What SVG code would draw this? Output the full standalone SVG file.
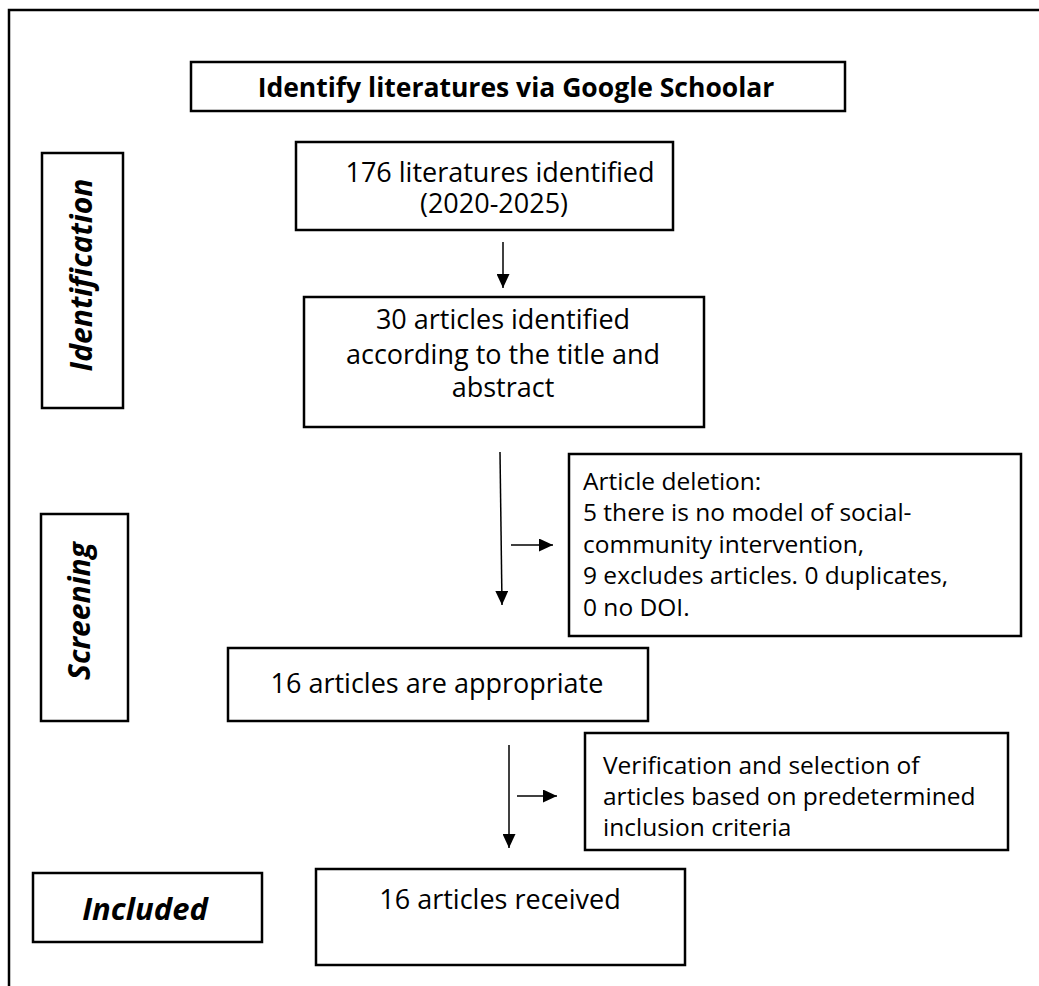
<svg xmlns="http://www.w3.org/2000/svg" width="1039" height="986" viewBox="0 0 1039 986">
<defs>
<style>
.box{fill:#fff;stroke:#000;stroke-width:2.5}
.t{font-family:"Open Sans","Noto Sans","DejaVu Sans",sans-serif;font-size:27px;fill:#000}
.b{font-weight:bold;font-size:26.5px}
.bi{font-family:"Open Sans","Noto Sans","DejaVu Sans",sans-serif;font-weight:bold;font-style:italic;font-size:30px;fill:#000}
.s{font-family:"Open Sans","Noto Sans","DejaVu Sans",sans-serif;font-size:24.5px;fill:#000}
.ln{stroke:#000;stroke-width:1.5;fill:none}
</style>
<marker id="ah" markerWidth="14" markerHeight="13" refX="14" refY="6.5" orient="auto" markerUnits="userSpaceOnUse" viewBox="0 0 14 13">
<path d="M0,0 L14,6.5 L0,13 Z" fill="#000"/>
</marker>
</defs>
<rect width="1039" height="986" fill="#fff"/>
<path d="M9,986 V10 H1039" fill="none" stroke="#000" stroke-width="2.5"/>

<g id="title">
<rect class="box" x="191" y="62" width="654" height="49"/>
<text class="t b" x="516" y="97" text-anchor="middle">Identify literatures via Google Schoolar</text>
</g>

<g id="identification">
<rect class="box" x="42" y="153" width="81" height="255"/>
<text class="bi" transform="translate(92,275) rotate(-90)" text-anchor="middle">Identification</text>
</g>

<g id="n176">
<rect class="box" x="296" y="142" width="377" height="88"/>
<text class="t" x="500" y="182" text-anchor="middle">176 literatures identified</text>
<text class="t" x="494" y="213" text-anchor="middle">(2020-2025)</text>
</g>

<g id="n30">
<rect class="box" x="304" y="297" width="400" height="130"/>
<text class="t" x="503" y="329" text-anchor="middle">30 articles identified</text>
<text class="t" x="503" y="364" text-anchor="middle">according to the title and</text>
<text class="t" x="503" y="397" text-anchor="middle">abstract</text>
</g>

<g id="deletion">
<rect class="box" x="569" y="454" width="452" height="182"/>
<text class="s" x="583" y="490">Article deletion:</text>
<text class="s" x="583" y="521">5 there is no model of social-</text>
<text class="s" x="583" y="553">community intervention,</text>
<text class="s" x="583" y="584">9 excludes articles. 0 duplicates,</text>
<text class="s" x="583" y="616">0 no DOI.</text>
</g>

<g id="screening">
<rect class="box" x="41" y="514" width="87" height="207"/>
<text class="bi" transform="translate(90,611) rotate(-90)" text-anchor="middle">Screening</text>
</g>

<g id="n16a">
<rect class="box" x="228" y="648" width="420" height="73"/>
<text class="t" x="437" y="693" text-anchor="middle">16 articles are appropriate</text>
</g>

<g id="verification">
<rect class="box" x="585" y="733" width="423" height="117"/>
<text class="s" x="603" y="774">Verification and selection of</text>
<text class="s" x="603" y="805">articles based on predetermined</text>
<text class="s" x="603" y="836">inclusion criteria</text>
</g>

<g id="included">
<rect class="box" x="33" y="873" width="229" height="69"/>
<text class="bi" x="145" y="920" text-anchor="middle" style="font-size:31px">Included</text>
</g>

<g id="n16b">
<rect class="box" x="316" y="869" width="369" height="96"/>
<text class="t" x="500" y="909" text-anchor="middle">16 articles received</text>
</g>

<g id="connectors">
<line class="ln" x1="503" y1="242" x2="503" y2="288" marker-end="url(#ah)"/>
<line class="ln" x1="500" y1="452" x2="502" y2="605" marker-end="url(#ah)"/>
<line class="ln" x1="511" y1="545" x2="553" y2="545" marker-end="url(#ah)"/>
<line class="ln" x1="509" y1="745" x2="509" y2="848" marker-end="url(#ah)"/>
<line class="ln" x1="517" y1="796" x2="557" y2="796" marker-end="url(#ah)"/>
</g>
</svg>
